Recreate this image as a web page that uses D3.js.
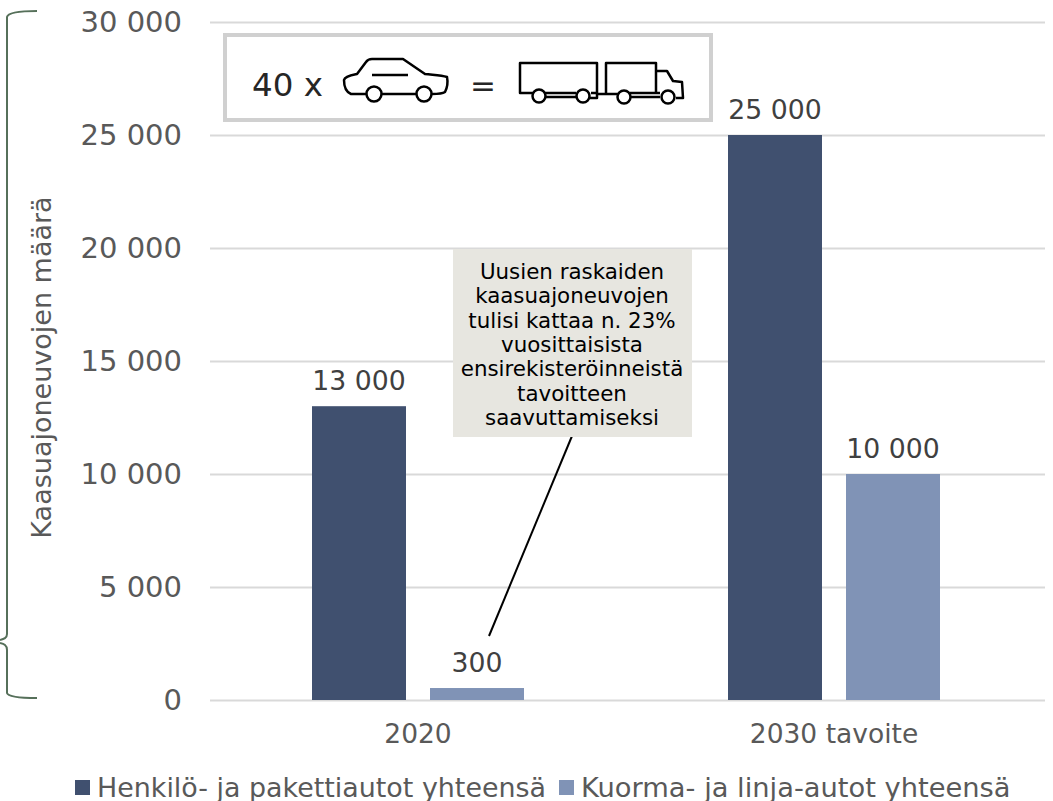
<!DOCTYPE html>
<html>
<head>
<meta charset="utf-8">
<script src="https://cdn.jsdelivr.net/npm/d3@7"></script>
<style>
  html, body { margin: 0; padding: 0; background: #fff; }
  svg { display: block; }
  text { font-family: "DejaVu Sans", Verdana, sans-serif; }
</style>
</head>
<body>
<div id="chart"></div>
<script>
var categories = ["2020", "2030 tavoite"];
var seriesNames = ["Henkilö- ja pakettiautot yhteensä", "Kuorma- ja linja-autot yhteensä"];
var henkilo = [13000, 25000];
//the small bar is drawn taller than its printed label says
var kuorma = [530, 10000];
var henkiloLabels = [13000, 25000];
var kuormaLabels = [300, 10000];
var yTicks = [0, 5000, 10000, 15000, 20000, 25000, 30000];
var seriesColors = ["#40506f", "#8093b6"];
var yTitle = "Kaasuajoneuvojen määrä";
var calloutLines = ["Uusien raskaiden", "kaasuajoneuvojen", "tulisi kattaa n. 23%", "vuosittaisista", "ensirekisteröinneistä", "tavoitteen", "saavuttamiseksi"];

var width = 1053, height = 801;
var plot = { left: 210, right: 1042, top: 22, bottom: 700 };

var fmt = function (d) {
  return String(d).replace(/\B(?=(\d{3})+$)/g, " ");
};

var svg = d3.select("#chart").append("svg")
  .attr("width", width)
  .attr("height", height);

var x = d3.scaleBand()
  .domain(categories)
  .range([plot.left, plot.right]);

var y = d3.scaleLinear()
  .domain([0, 30000])
  .range([plot.bottom, plot.top]);

var xInner = d3.scaleBand()
  .domain([0, 1])
  .range([x.bandwidth() / 2 - 106, x.bandwidth() / 2 + 106])
  .paddingInner(0.2034)
  .paddingOuter(0);

//y axis, the tick lines double as gridlines
var yAxis = d3.axisLeft(y)
  .tickValues(yTicks)
  .tickFormat(fmt)
  .tickSize(-(plot.right - plot.left + 3))
  .tickPadding(28);

var yG = svg.append("g")
  .attr("transform", "translate(" + plot.left + ",0)")
  .call(yAxis);
yG.select(".domain").remove();
yG.selectAll("line").attr("stroke", "#d9d9d9").attr("stroke-width", 2);
yG.selectAll("text")
  .attr("fill", "#595959")
  .style("font-size", "29px")
  .style("font-family", '"DejaVu Sans", Verdana, sans-serif');

//x axis labels
var xAxis = d3.axisBottom(x).tickSize(0).tickPadding(24);
var xG = svg.append("g")
  .attr("transform", "translate(0," + plot.bottom + ")")
  .call(xAxis);
xG.select(".domain").remove();
xG.selectAll("text")
  .attr("fill", "#595959")
  .style("font-size", "26.5px")
  .style("font-family", '"DejaVu Sans", Verdana, sans-serif');

//bars and their labels
[henkilo, kuorma].forEach(function (values, s) {
  var labels = s === 0 ? henkiloLabels : kuormaLabels;
  var g = svg.append("g");
  g.selectAll("rect")
    .data(values)
    .enter().append("rect")
    .attr("x", function (d, i) { return x(categories[i]) + xInner(s); })
    .attr("width", xInner.bandwidth())
    .attr("y", function (d) { return y(d); })
    .attr("height", function (d) { return y(0) - y(d); })
    .attr("fill", seriesColors[s]);
  g.selectAll("text")
    .data(values)
    .enter().append("text")
    .attr("x", function (d, i) { return x(categories[i]) + xInner(s) + xInner.bandwidth() / 2; })
    .attr("y", function (d) { return y(d) - 16; })
    .attr("text-anchor", "middle")
    .attr("fill", "#404040")
    .style("font-size", "26.7px")
    .text(function (d, i) { return fmt(labels[i]); });
});

//y axis title
svg.append("text")
  .attr("transform", "translate(51,367.5) rotate(-90)")
  .attr("text-anchor", "middle")
  .attr("fill", "#595959")
  .style("font-size", "27px")
  .text(yTitle);

//brace on the left
svg.append("path")
  .attr("d", "M37,11 C24,11 8,12 7,17 L7,634 C7,638 4,639 0,640 M0,643 C4,644 7,645 7,650 L7,693 C8,697 24,698 37,698")
  .attr("fill", "none")
  .attr("stroke", "#56705a")
  .attr("stroke-width", 2);

//callout
svg.append("line")
  .attr("x1", 572).attr("y1", 436)
  .attr("x2", 489).attr("y2", 636)
  .attr("stroke", "#000")
  .attr("stroke-width", 2);
svg.append("rect")
  .attr("x", 453).attr("y", 249)
  .attr("width", 239).attr("height", 188)
  .attr("fill", "#e7e6e0");
svg.append("g").selectAll("text")
  .data(calloutLines)
  .enter().append("text")
  .attr("x", 572)
  .attr("y", function (d, i) { return 279 + i * 24.3; })
  .attr("text-anchor", "middle")
  .attr("fill", "#000")
  .style("font-size", "21.4px")
  .text(function (d) { return d; });

//box with the car and truck pictogram
svg.append("rect")
  .attr("x", 225).attr("y", 35)
  .attr("width", 486).attr("height", 85)
  .attr("fill", "#fff")
  .attr("stroke", "#d0d0d0")
  .attr("stroke-width", 4);
svg.append("text")
  .attr("x", 252).attr("y", 96)
  .attr("fill", "#262626")
  .style("font-size", "32.5px")
  .text("40 x");
svg.append("text")
  .attr("x", 483).attr("y", 96)
  .attr("text-anchor", "middle")
  .attr("fill", "#262626")
  .style("font-size", "31px")
  .text("=");

var icon = svg.append("g")
  .attr("fill", "none")
  .attr("stroke", "#000")
  .attr("stroke-width", 2.5)
  .attr("stroke-linejoin", "round");
icon.append("path").attr("d", "M366,94 L351,94 C346,92 344,86 344,80 C345,76 352,75 357,74 L366,62 Q368,59 372,59 L403,59 L425,74 C433,75 441,75 447,77 C448,82 447,88 445,92 C442,94 438,94 432,94 M382,94 L416,94");
icon.append("path").attr("d", "M372,75 L408,75");
icon.append("path").attr("d", "M533,93 L520,93 L520,63 L597,63 L597,93 L591,93 M545,93 L576,93 M545,97 L576,97 M597,93 L597,98 L590,98");
icon.append("path").attr("d", "M597,94 L618,94 M606,94 L606,63 L656,63 L656,93 M630,93 L660,93 M630,97 L660,97 M656,71 L667,71 L673,81 L682,82 L683,98 L676,98");
[[374, 94, 7.5], [424, 94, 7.5], [539, 96, 6.5], [583, 96, 6.5], [624, 97, 6.5], [668, 97, 6.5]].forEach(function (w) {
  icon.append("circle").attr("cx", w[0]).attr("cy", w[1]).attr("r", w[2]).attr("fill", "#fff");
});

//legend
var legendX = [75, 559];
var legendSize = [26.9, 27.3];
seriesNames.forEach(function (name, i) {
  svg.append("rect")
    .attr("x", legendX[i]).attr("y", 780)
    .attr("width", 15).attr("height", 15)
    .attr("fill", seriesColors[i]);
  svg.append("text")
    .attr("x", legendX[i] + 22).attr("y", 797)
    .attr("fill", "#595959")
    .style("font-size", legendSize[i] + "px")
    .text(name);
});
</script>
</body>
</html>
